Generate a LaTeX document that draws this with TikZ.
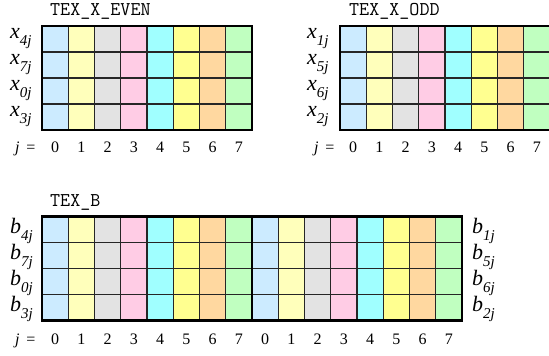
\documentclass[tikz,border=0pt]{standalone}
\usepackage{fontspec}
\setmainfont{Liberation Serif}
\definecolor{cA}{HTML}{CCEBFF}
\definecolor{cB}{HTML}{FFFFBB}
\definecolor{cC}{HTML}{E3E3E3}
\definecolor{cD}{HTML}{FFCCE5}
\definecolor{cE}{HTML}{A0FFFF}
\definecolor{cF}{HTML}{FFFF90}
\definecolor{cG}{HTML}{FFD8A0}
\definecolor{cH}{HTML}{C0FFC0}
% label pieces
\newcommand{\rowlab}[2]{\fontsize{22}{22}\selectfont\textit{#1}\raisebox{-0.36em}{\fontsize{15}{15}\selectfont\textit{#2j}}}
\tikzset{
  title/.style={anchor=base west, inner sep=0pt, font=\ttfamily\fontsize{19.5}{19.5}\selectfont},
  rowtext/.style={anchor=base west, inner sep=0pt},
  idx/.style={anchor=base, inner sep=0pt, font=\fontsize{16}{16}\selectfont},
  cellline/.style={line width=1.3pt, draw=black!85},
  frame/.style={line width=2.6pt, draw=black},
}
% a block of 8 coloured columns, 4 rows, top-left corner at (#1,#2)
\newcommand{\colblock}[2]{%
  \foreach \c [count=\k from 0] in {cA,cB,cC,cD,cE,cF,cG,cH}{
    \fill[\c] ({#1+\k*26.25},#2) rectangle ++(26.25,104);
  }
  \foreach \k in {1,...,7}{ \draw[cellline] ({#1+\k*26.25},#2) -- ++(0,104); }
  \foreach \r in {1,2,3}{ \draw[cellline] (#1,{#2+\r*26}) -- ++(210,0); }
}
\newcommand{\digits}[2]{% x0, baseline
  \foreach \k in {0,...,7}{ \node[idx] at ({#1+13.1+\k*26.25},#2) {\k}; }
}
\begin{document}
\begin{tikzpicture}[x=1pt,y=-1pt]
\useasboundingbox (0,0) rectangle (549,356);

% ---- TEX_X_EVEN ----
\node[title] (tE) at (50,15) {TEX\_X\_EVEN};
\colblock{42}{26}
\draw[frame] (42,26) rectangle (252,130);
\node[rowtext] (e4) at (10,38) {\rowlab{x}{4}};
\node[rowtext] (e7) at (10,64) {\rowlab{x}{7}};
\node[rowtext] (e0) at (10,90) {\rowlab{x}{0}};
\node[rowtext] (e3) at (10,116) {\rowlab{x}{3}};
\node[idx, anchor=base west] (ej) at (15,152) {\textit{j}\, =};
\digits{42}{152}

% ---- TEX_X_ODD ----
\node[title] (tO) at (349,15) {TEX\_X\_ODD};
\colblock{340}{26}
\draw[frame] (340,26) rectangle (550,130);
\node[rowtext] (o1) at (307,38) {\rowlab{x}{1}};
\node[rowtext] (o5) at (307,64) {\rowlab{x}{5}};
\node[rowtext] (o6) at (307,90) {\rowlab{x}{6}};
\node[rowtext] (o2) at (307,116) {\rowlab{x}{2}};
\node[idx, anchor=base west] (oj) at (314,152) {\textit{j}\, =};
\digits{340}{152}

% ---- TEX_B ----
\node[title] (tB) at (50,206) {TEX\_B};
\colblock{42}{216.7}
\colblock{252}{216.7}
\draw[frame] (42,216.7) rectangle (462,320.7);
\draw[frame] (252,216.7) -- (252,320.7);
\node[rowtext] (bl4) at (10,233) {\rowlab{b}{4}};
\node[rowtext] (bl7) at (10,259) {\rowlab{b}{7}};
\node[rowtext] (bl0) at (10,285) {\rowlab{b}{0}};
\node[rowtext] (bl3) at (10,311) {\rowlab{b}{3}};
\node[rowtext] (br1) at (472,233) {\rowlab{b}{1}};
\node[rowtext] (br5) at (472,259) {\rowlab{b}{5}};
\node[rowtext] (br6) at (472,285) {\rowlab{b}{6}};
\node[rowtext] (br2) at (472,311) {\rowlab{b}{2}};
\node[idx, anchor=base west] (bj) at (15,344) {\textit{j}\, =};
\digits{42}{344}
\digits{252}{344}
\end{tikzpicture}
\end{document}
